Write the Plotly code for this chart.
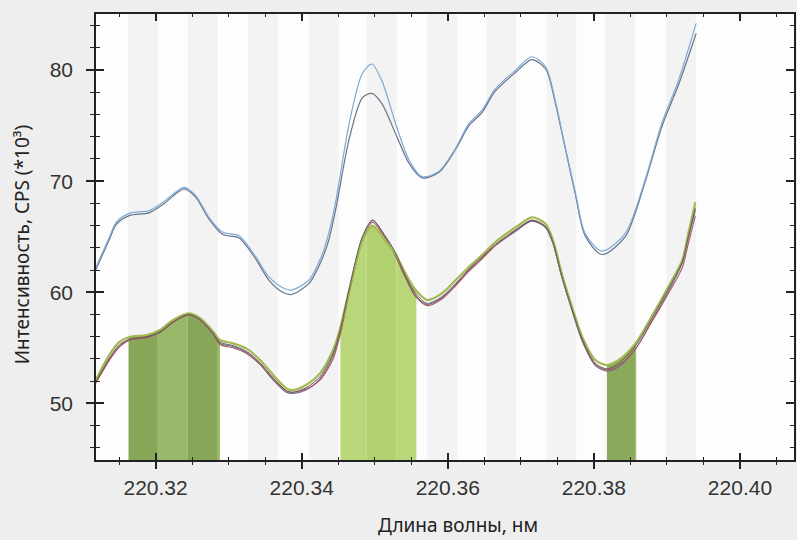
import numpy as np
import plotly.graph_objects as go

# ---------------- data ----------------
# upper (blue) group
wl_up = [220.3118, 220.3137, 220.3146, 220.3164, 220.3191, 220.3210, 220.3239, 220.3255, 220.3273, 220.3292,
         220.3314, 220.3337, 220.3355, 220.3374, 220.3386, 220.3410, 220.3428, 220.3437, 220.3447, 220.3465,
         220.3483, 220.3496, 220.3510, 220.3529, 220.3547, 220.3565, 220.3588, 220.3611, 220.3629, 220.3647,
         220.3665, 220.3693, 220.3715, 220.3734, 220.3747, 220.3761, 220.3775, 220.3788, 220.3811, 220.3843,
         220.3870, 220.3893, 220.3916, 220.3940]
blue_a = [62.2, 65.0, 66.3, 67.1, 67.35, 68.1, 69.45, 68.7, 66.75, 65.4,
          65.1, 63.2, 61.4, 60.4, 60.2, 61.1, 63.4, 65.3, 68.3, 75.2,
          79.7, 80.55, 79.0, 75.1, 71.9, 70.4, 70.9, 73.0, 75.2, 76.4,
          78.3, 80.0, 81.2, 80.3, 77.3, 73.0, 68.9, 65.3, 63.7, 65.3,
          70.1, 75.2, 79.1, 84.2]
blue_b = [62.0, 64.8, 66.1, 66.9, 67.15, 67.9, 69.3, 68.55, 66.6, 65.2,
          64.9, 63.0, 61.1, 60.0, 59.8, 60.8, 63.0, 64.7, 67.6, 73.8,
          77.5, 77.9, 76.96, 74.2, 71.6, 70.3, 70.8, 72.9, 75.0, 76.2,
          78.1, 79.8, 80.95, 80.1, 77.1, 72.9, 68.7, 65.1, 63.4, 65.0,
          69.9, 74.9, 78.7, 83.3]

# lower group
wl_lo = [220.3118, 220.3138, 220.3151, 220.3165, 220.3188, 220.3206, 220.3224, 220.3245, 220.3261, 220.3279,
         220.3288, 220.3306, 220.3324, 220.3343, 220.3361, 220.3379, 220.3388, 220.3406, 220.3425, 220.3443,
         220.3452, 220.3465, 220.3483, 220.3497, 220.3515, 220.3528, 220.3542, 220.3556, 220.3572, 220.3592,
         220.3611, 220.3629, 220.3647, 220.3665, 220.3693, 220.3715, 220.3734, 220.3744, 220.3756, 220.3770,
         220.3784, 220.3802, 220.3818, 220.3834, 220.3857, 220.3879, 220.3902, 220.3921, 220.3929, 220.3939]
green = [52.1, 54.5, 55.55, 56.0, 56.15, 56.6, 57.5, 58.1, 57.66, 56.45,
         55.7, 55.4, 54.95, 53.9, 52.55, 51.35, 51.2, 51.65, 52.7, 54.8,
         56.6, 60.2, 64.6, 66.0, 64.6, 63.5, 61.7, 60.2, 59.3, 59.9,
         61.1, 62.3, 63.36, 64.5, 65.85, 66.75, 66.15, 64.7, 61.7, 58.7,
         56.0, 53.9, 53.45, 53.9, 55.4, 57.8, 60.5, 62.9, 65.2, 68.1]
gray = [51.9, 54.2, 55.3, 55.8, 56.0, 56.45, 57.35, 58.0, 57.55, 56.3,
        55.5, 55.2, 54.7, 53.65, 52.3, 51.15, 51.0, 51.4, 52.4, 54.5,
        56.4, 60.3, 65.0, 66.45, 65.0, 63.6, 61.5, 59.9, 59.0, 59.6,
        60.8, 62.1, 63.2, 64.3, 65.6, 66.45, 65.9, 64.5, 61.5, 58.5,
        55.8, 53.6, 53.1, 53.6, 55.2, 57.6, 60.3, 62.7, 64.9, 67.6]
red = [51.8, 54.0, 55.1, 55.7, 55.9, 56.4, 57.3, 57.95, 57.5, 56.2,
       55.3, 55.0, 54.5, 53.5, 52.2, 51.1, 51.0, 51.3, 52.1, 54.0,
       56.0, 59.9, 64.6, 66.3, 64.8, 63.3, 61.3, 59.6, 58.8, 59.4,
       60.6, 61.9, 63.0, 64.2, 65.6, 66.5, 65.9, 64.4, 61.4, 58.4,
       55.7, 53.5, 53.0, 53.4, 54.9, 57.3, 59.9, 62.2, 64.3, 66.9]
purple = [51.9, 54.1, 55.2, 55.75, 55.95, 56.4, 57.3, 57.95, 57.5, 56.2,
          55.4, 55.1, 54.6, 53.5, 52.1, 51.0, 50.9, 51.2, 52.2, 54.3,
          56.3, 60.1, 64.9, 66.5, 64.9, 63.4, 61.4, 59.7, 58.9, 59.5,
          60.7, 62.0, 63.1, 64.2, 65.5, 66.4, 65.8, 64.4, 61.4, 58.4,
          55.6, 53.4, 52.9, 53.3, 54.9, 57.4, 60.1, 62.6, 64.8, 67.4]

# integration windows (nm)
win_start = [220.3163, 220.3453, 220.3818]
win_end = [220.3288, 220.3557, 220.3858]

# background pixel bands (start wavelength of each shaded column)
band_start = [220.31621, 220.32442, 220.33262, 220.34096, 220.34889,
              220.35723, 220.36529, 220.37349, 220.38156, 220.38990]
band_width = 0.0041

x_title = "Длина волны, нм"
y_title = "Интенсивность, CPS (*10³)"

# ---------------- styling ----------------
win_colors = [("rgb(154,184,106)", "rgb(136,166,88)"),
              ("rgb(184,215,120)", "rgb(177,209,113)"),
              ("rgb(148,179,100)", "rgb(138,169,90)")]

X_RANGE = [220.31184, 220.4074]
Y_RANGE = [44.9, 85.05]

fig = go.Figure()

def in_band(v):
    return any(b <= v < b + band_width for b in band_start)

# filled windows split by background columns
for i, (a, b) in enumerate(zip(win_start, win_end)):
    edges = [a, b]
    for s in band_start:
        for e in (s, s + band_width):
            if a < e < b:
                edges.append(e)
    edges = sorted(edges)
    light, dark = win_colors[i]
    for p0, p1 in zip(edges[:-1], edges[1:]):
        xs = [p0] + [w for w in wl_lo if p0 < w < p1] + [p1]
        ys = list(np.interp(xs, wl_lo, green))
        col = dark if in_band((p0 + p1) / 2) else light
        fig.add_trace(go.Scatter(x=xs, y=ys, mode="lines", fill="tozeroy",
                                 fillcolor=col, line=dict(width=0, shape="spline", smoothing=0.8),
                                 hoverinfo="skip", showlegend=False))

lw = dict(shape="spline", smoothing=0.8)
fig.add_trace(go.Scatter(x=wl_lo, y=purple, mode="lines", line=dict(color="#6f6a9a", width=1.1, **lw), showlegend=False))
fig.add_trace(go.Scatter(x=wl_lo, y=red, mode="lines", line=dict(color="#b0585a", width=1.1, **lw), showlegend=False))
fig.add_trace(go.Scatter(x=wl_lo, y=green, mode="lines", line=dict(color="#a3b84e", width=2.2, **lw), showlegend=False))
fig.add_trace(go.Scatter(x=wl_lo, y=gray, mode="lines", line=dict(color="#5e5e5e", width=1.0, **lw), showlegend=False))
fig.add_trace(go.Scatter(x=wl_up, y=blue_b, mode="lines", line=dict(color="#66748a", width=1.2, **lw), showlegend=False))
fig.add_trace(go.Scatter(x=wl_up, y=blue_a, mode="lines", line=dict(color="#7ea8d4", width=1.2, **lw), showlegend=False))

shapes = []
for s in band_start:
    shapes.append(dict(type="rect", xref="x", yref="paper", x0=s, x1=s + band_width, y0=0, y1=1,
                       fillcolor="#f3f3f3", line=dict(width=0), layer="below"))

tickfont = dict(family="Liberation Sans, Arial, sans-serif", size=21, color="#333333")
axcol = "#222222"

fig.update_layout(
    width=797, height=540,
    margin=dict(l=96, r=1, t=14, b=80),
    paper_bgcolor="#eeeeee",
    plot_bgcolor="#fdfdfd",
    shapes=shapes,
    xaxis=dict(range=X_RANGE, tick0=220.32, dtick=0.02, tickformat=".2f",
               ticks="outside", ticklen=7, tickwidth=1.5, tickcolor=axcol,
               showline=True, linecolor=axcol, linewidth=1.5, mirror=True,
               showgrid=False, zeroline=False, tickfont=tickfont, ticklabelstandoff=1,
               minor=dict(tick0=220.32, dtick=0.005, ticks="outside", ticklen=3, tickwidth=1.2, tickcolor=axcol)),
    yaxis=dict(range=Y_RANGE, tick0=0, dtick=10,
               ticks="outside", ticklen=8, tickwidth=1.5, tickcolor=axcol,
               showline=True, linecolor=axcol, linewidth=1.5, mirror=True,
               showgrid=False, zeroline=False, tickfont=tickfont, ticklabelstandoff=9,
               minor=dict(tick0=0, dtick=2, ticks="outside", ticklen=4, tickwidth=1.2, tickcolor=axcol)),
    xaxis2=dict(range=X_RANGE, overlaying="x", anchor="y", side="bottom",
                tick0=220.32, dtick=0.02, ticks="inside", ticklen=7, tickwidth=1.5, tickcolor=axcol,
                mirror="ticks", showline=False, showgrid=False, zeroline=False, showticklabels=False,
                minor=dict(tick0=220.32, dtick=0.005, ticks="inside", ticklen=3, tickwidth=1.2, tickcolor=axcol)),
    yaxis2=dict(range=Y_RANGE, overlaying="y", anchor="x", side="left",
                tick0=0, dtick=10, ticks="inside", ticklen=8, tickwidth=1.5, tickcolor=axcol,
                mirror="ticks", showline=False, showgrid=False, zeroline=False, showticklabels=False,
                minor=dict(tick0=0, dtick=2, ticks="inside", ticklen=4, tickwidth=1.2, tickcolor=axcol)),
    annotations=[
        dict(text=x_title, xref="paper", yref="paper", x=0.5186, y=-0.1457,
             xanchor="center", yanchor="middle", showarrow=False,
             font=dict(family="Noto Sans, Open Sans, sans-serif", size=19, color="#222222")),
        dict(text=y_title, xref="paper", yref="paper", x=-0.1057, y=0.482,
             xanchor="center", yanchor="middle", textangle=-90, showarrow=False,
             font=dict(family="Noto Sans, Open Sans, sans-serif", size=19, color="#222222")),
    ],
)

# dummy trace so the overlay axes are rendered
fig.add_trace(go.Scatter(x=[X_RANGE[0]], y=[Y_RANGE[0]], xaxis="x2", yaxis="y2", mode="markers",
                         marker=dict(opacity=0), hoverinfo="skip", showlegend=False))

fig.write_html("out.html", config={"displayModeBar": False},
               post_script="document.body.style.margin='0';")
